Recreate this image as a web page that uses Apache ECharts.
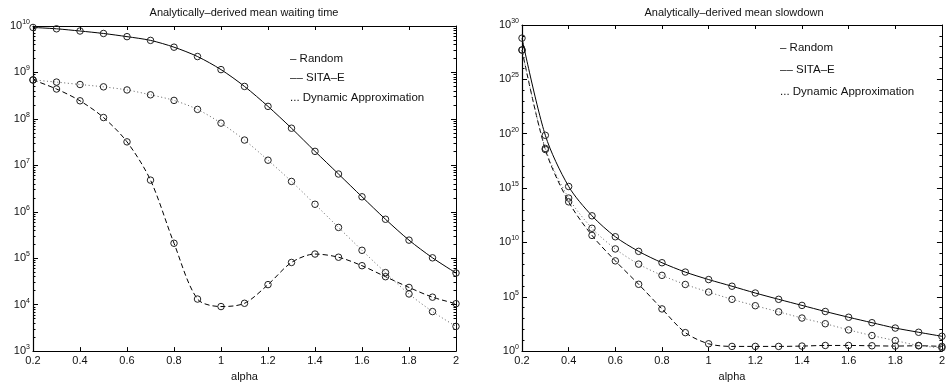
<!DOCTYPE html>
<html>
<head>
<meta charset="UTF-8">
<title>Analytically-derived mean waiting time / slowdown</title>
<script src="https://cdn.jsdelivr.net/npm/echarts@6.0.0/dist/echarts.min.js"></script>
<style>
  body { margin: 0; background: #fff; }
  #chart { width: 948px; height: 387px; }
</style>
</head>
<body>
<div id="chart"></div>
<script>
// x values (alpha)
const alpha = [0.2, 0.3, 0.4, 0.5, 0.6, 0.7, 0.8, 0.9, 1.0, 1.1, 1.2, 1.3, 1.4, 1.5, 1.6, 1.7, 1.8, 1.9, 2.0];

// mean waiting time
const waitRandom = [9.3e9, 8.7e9, 7.8e9, 6.9e9, 5.9e9, 4.9e9, 3.5e9, 2.2e9, 1.15e9, 5.0e8, 1.86e8, 6.3e7, 2.0e7, 6.5e6, 2.1e6, 6.9e5, 2.45e5, 1.02e5, 4.8e4];
const waitSita = [6.9e8, 4.4e8, 2.45e8, 1.07e8, 3.2e7, 4.8e6, 2.1e5, 1.32e4, 9.1e3, 1.07e4, 2.7e4, 8.1e4, 1.23e5, 1.05e5, 6.9e4, 4.0e4, 2.35e4, 1.45e4, 1.05e4];
const waitDynamic = [6.9e8, 6.2e8, 5.5e8, 4.9e8, 4.2e8, 3.3e8, 2.5e8, 1.6e8, 8.1e7, 3.5e7, 1.29e7, 4.5e6, 1.45e6, 4.6e5, 1.48e5, 4.9e4, 1.7e4, 7.1e3, 3.4e3];

// mean slowdown
const slowRandom = [6.2e28, 7.1e19, 1.4e15, 2.8e12, 3.3e10, 1.5e9, 1.35e8, 1.86e7, 3.8e6, 9.3e5, 2.2e5, 5.8e4, 1.6e4, 4.4e3, 1.3e3, 410, 132, 54, 23];
const slowSita = [5.0e27, 3.5e18, 5.4e13, 4.4e10, 2.0e8, 1.4e6, 7.6e3, 50, 4.7, 2.7, 2.7, 2.7, 2.9, 3.3, 3.3, 3.1, 2.9, 3.1, 2.7];
const slowDynamic = [5.0e27, 4.4e18, 1.2e14, 2.0e11, 2.5e9, 1.0e8, 9.3e6, 1.35e6, 2.7e5, 5.8e4, 1.5e4, 4.1e3, 1.1e3, 330, 89, 27, 9.3, 3.3, 2.0];

// y tick values
const waitTicks = [1e3, 1e4, 1e5, 1e6, 1e7, 1e8, 1e9, 1e10];
const slowTicks = [1, 1e5, 1e10, 1e15, 1e20, 1e25, 1e30];

const titles = ['Analytically\u2013derived mean waiting time', 'Analytically\u2013derived mean slowdown'];
const legendText = ['\u2013 Random', '\u2013\u2013 SITA\u2013E', '... Dynamic Approximation'];
const xTitle = 'alpha';

// minor ticks: 2..9 per decade on the left plot, every decade on the right plot
const minorWait = [];
for (let n = 3; n < 10; n++) {
  for (let k = 2; k <= 9; k++) minorWait.push(k * Math.pow(10, n));
}
const minorSlow = [];
for (let n = 1; n < 30; n++) {
  if (n % 5 !== 0) minorSlow.push(Math.pow(10, n));
}

// tiny headroom so the top decade survives the log round trip
const waitMax = 1.000001e10;
const slowMax = 1.000001e30;

const font = 'Liberation Sans, Arial, sans-serif';
const chart = echarts.init(document.getElementById('chart'));

function pairs(vals) {
  return alpha.map((a, i) => [a, vals[i]]);
}

function powLabel(v) {
  const e = Math.round(Math.log10(v));
  return '{b|10}{e|' + e + '}';
}

const labelRich = {
  b: { fontSize: 11, fontFamily: font, color: '#111' },
  e: { fontSize: 7, fontFamily: font, color: '#111', padding: [0, 0, 8, 0] }
};

function xAxisPair(grid) {
  return [
    {
      type: 'value', gridIndex: grid, min: 0.2, max: 2, interval: 0.2, position: 'bottom',
      name: xTitle, nameLocation: 'middle', nameGap: 16,
      nameTextStyle: { fontSize: 11, fontFamily: font, color: '#111' },
      axisLine: { lineStyle: { color: '#000', width: 1.2 } },
      axisTick: { inside: true, length: 4, lineStyle: { color: '#000' } },
      axisLabel: { fontSize: 11, fontFamily: font, color: '#111', margin: 4 },
      splitLine: { show: false }
    },
    {
      type: 'value', gridIndex: grid, min: 0.2, max: 2, interval: 0.2, position: 'top',
      axisLine: { lineStyle: { color: '#000', width: 1 } },
      axisTick: { inside: true, length: 4, lineStyle: { color: '#000' } },
      axisLabel: { show: false },
      splitLine: { show: false }
    }
  ];
}

function yMajor(grid, pos, min, max, ticks, showLabel) {
  return {
    type: 'log', logBase: 10, gridIndex: grid, position: pos, min: min, max: max,
    axisLine: { show: true, lineStyle: { color: '#000', width: pos === 'left' ? 1.2 : 1 } },
    axisTick: { show: true, inside: true, length: 5, customValues: ticks, lineStyle: { color: '#000' } },
    axisLabel: { show: showLabel, customValues: ticks, formatter: powLabel, rich: labelRich, margin: 3 },
    splitLine: { show: false }
  };
}

function yMinor(grid, pos, min, max, ticks) {
  return {
    type: 'log', logBase: 10, gridIndex: grid, position: pos, min: min, max: max,
    axisLine: { show: false },
    axisTick: { show: true, inside: true, length: 2.5, customValues: ticks, lineStyle: { color: '#000' } },
    axisLabel: { show: false },
    splitLine: { show: false }
  };
}

function makeSeries(name, vals, xi, yi, style) {
  const ls = { color: '#000', width: 1, type: 'solid' };
  if (style === 'dash') { ls.type = [5, 3]; }
  if (style === 'dot') { ls.type = [1, 2.5]; ls.color = '#666'; }
  return {
    name: name, type: 'line', xAxisIndex: xi, yAxisIndex: yi,
    data: pairs(vals), smooth: 0.3,
    symbol: 'circle', symbolSize: 6.5,
    itemStyle: { color: 'rgba(255,255,255,0)', borderColor: '#222', borderWidth: 1 },
    lineStyle: ls,
    z: style === 'solid' ? 3 : 2
  };
}

function legendBlock(x, ys) {
  return legendText.map((t, i) => ({
    type: 'text', left: x, top: ys[i] - 7,
    style: { text: t, fontSize: 11.5, fontFamily: font, fill: '#111' }
  }));
}

chart.setOption({
  animation: false,
  backgroundColor: '#fff',
  title: [
    { text: titles[0], left: 244, top: 7, textAlign: 'center', padding: 0,
      textStyle: { fontSize: 11, fontWeight: 'normal', fontFamily: font, color: '#111' } },
    { text: titles[1], left: 734, top: 7, textAlign: 'center', padding: 0,
      textStyle: { fontSize: 11, fontWeight: 'normal', fontFamily: font, color: '#111' } }
  ],
  grid: [
    { left: 33, top: 26, width: 423, height: 329, containLabel: false },
    { left: 522, top: 25, width: 423, height: 331, containLabel: false }
  ],
  xAxis: xAxisPair(0).concat(xAxisPair(1)),
  yAxis: [
    yMajor(0, 'left', 1e3, waitMax, waitTicks, true),
    yMajor(0, 'right', 1e3, waitMax, waitTicks, false),
    yMinor(0, 'left', 1e3, waitMax, minorWait),
    yMinor(0, 'right', 1e3, waitMax, minorWait),
    yMajor(1, 'left', 1, slowMax, slowTicks, true),
    yMajor(1, 'right', 1, slowMax, slowTicks, false),
    yMinor(1, 'left', 1, slowMax, minorSlow),
    yMinor(1, 'right', 1, slowMax, minorSlow)
  ],
  series: [
    makeSeries('Random', waitRandom, 0, 0, 'solid'),
    makeSeries('SITA-E', waitSita, 0, 0, 'dash'),
    makeSeries('Dynamic Approximation', waitDynamic, 0, 0, 'dot'),
    makeSeries('Random', slowRandom, 2, 4, 'solid'),
    makeSeries('SITA-E', slowSita, 2, 4, 'dash'),
    makeSeries('Dynamic Approximation', slowDynamic, 2, 4, 'dot')
  ],
  graphic: legendBlock(290, [59.5, 79, 98.5]).concat(legendBlock(780, [48.5, 70.5, 92.5]))
});
</script>
</body>
</html>
